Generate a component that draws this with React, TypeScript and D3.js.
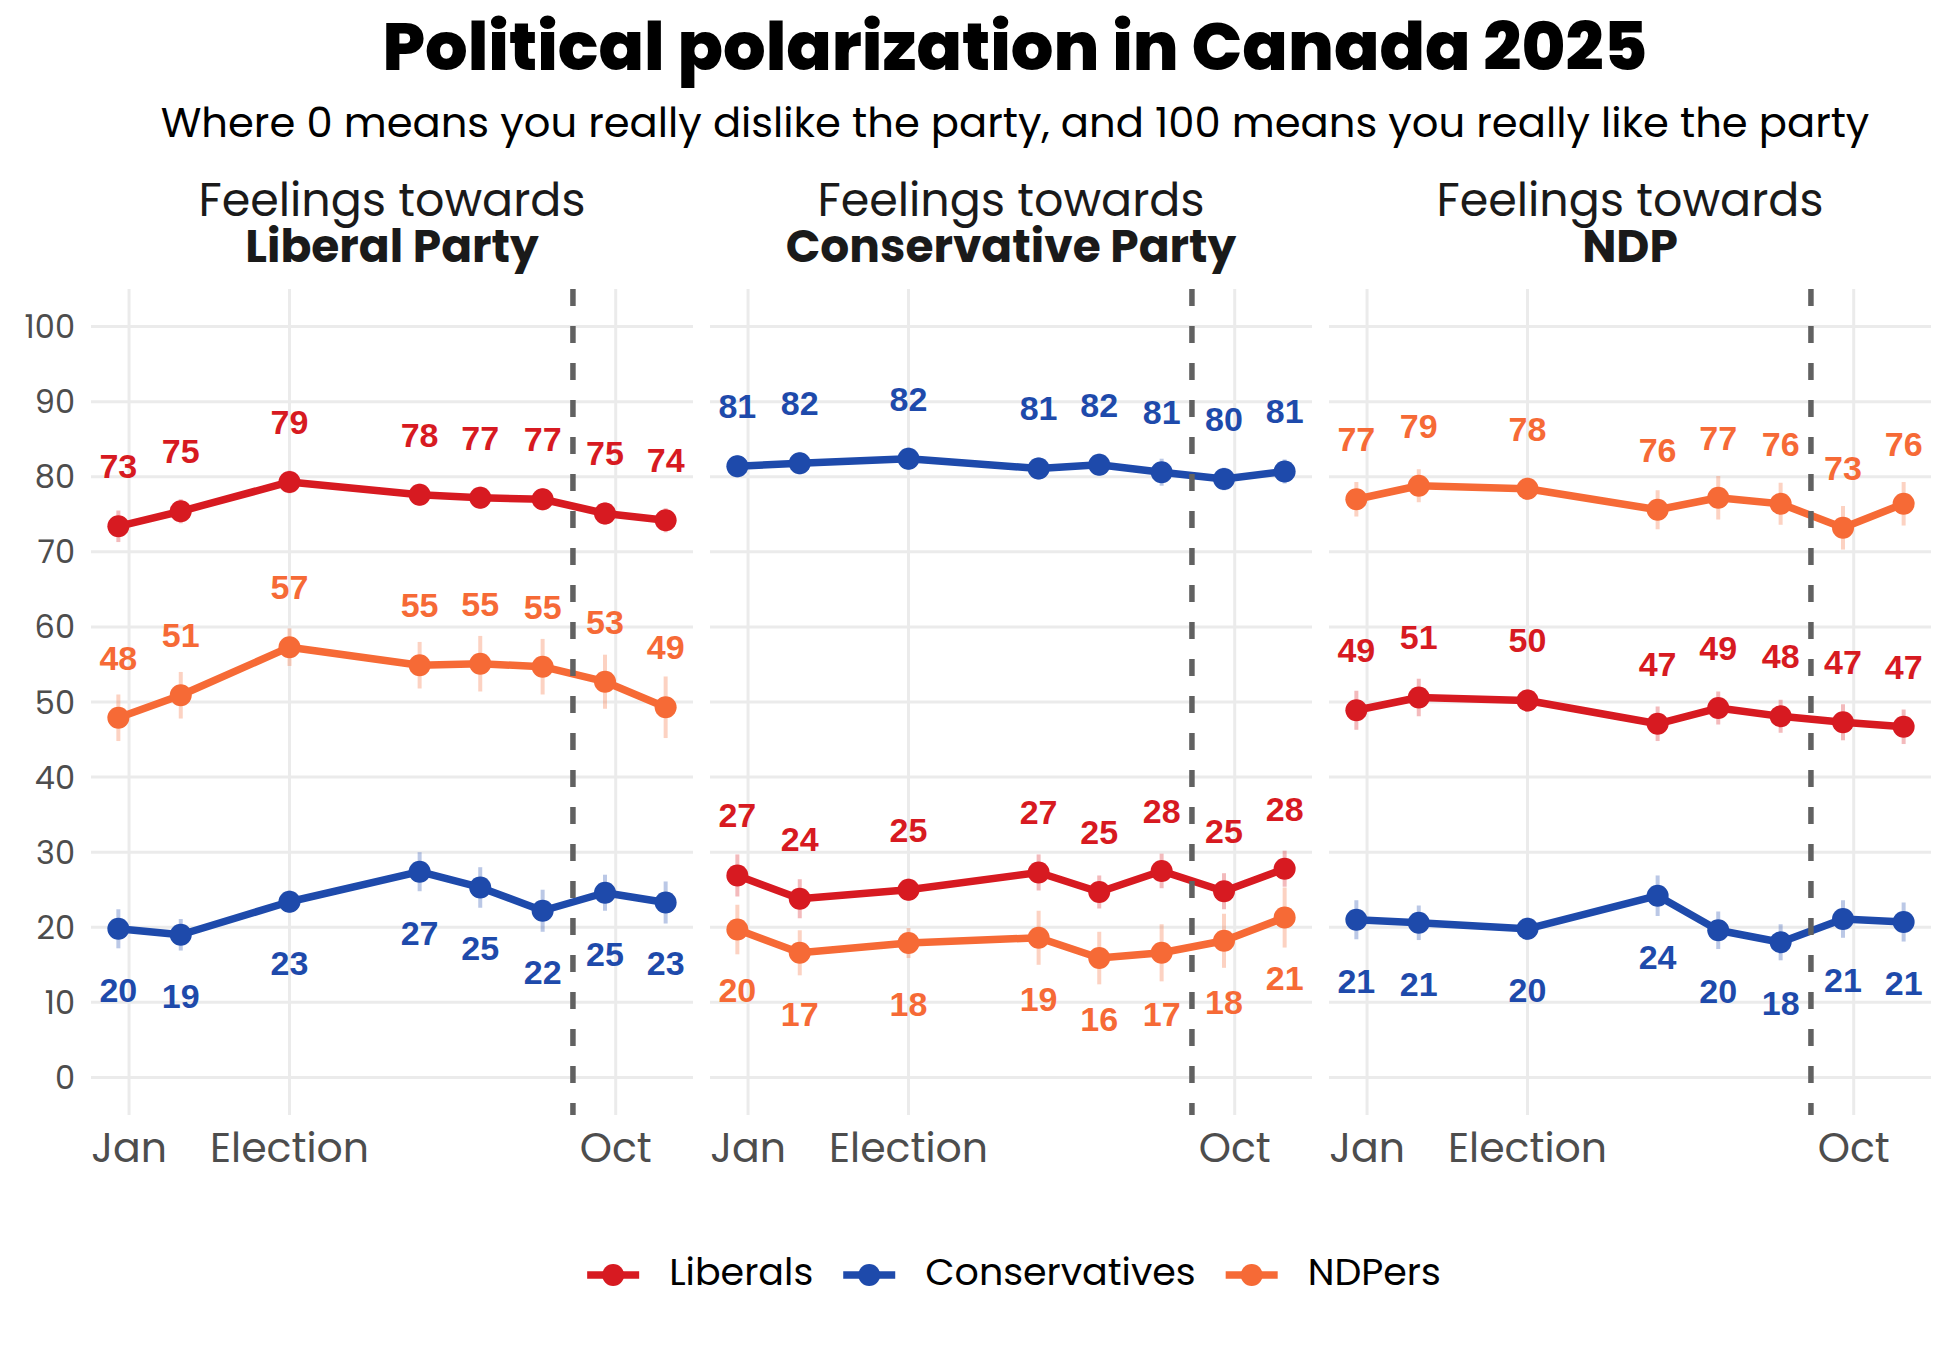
import { useEffect, useRef } from 'react'
import * as d3 from 'd3'

// survey waves (x positions) and axis breaks
const surveyDates = ['2024-12-26', '2025-01-30', '2025-04-01', '2025-06-13', '2025-07-17', '2025-08-21', '2025-09-25', '2025-10-29']
const cutoffDate = '2025-09-07'
const xBreaks = ['2025-01-01', '2025-04-01', '2025-10-01']
const xBreakLabels = ['Jan', 'Election', 'Oct']
const yTicks = [0, 10, 20, 30, 40, 50, 60, 70, 80, 90, 100]

const parties = ['Liberal Party', 'Conservative Party', 'NDP']
const groups = ['Liberals', 'Conservatives', 'NDPers']
const groupColors = ['#d71a21', '#1e4aab', '#f66a36']

// Feelings towards the Liberal Party
const libPartyLiberals = [73.4, 75.4, 79.3, 77.6, 77.2, 77.0, 75.1, 74.2]
const libPartyConservatives = [19.8, 19.0, 23.4, 27.4, 25.3, 22.2, 24.6, 23.3]
const libPartyNDPers = [47.9, 50.9, 57.3, 54.9, 55.1, 54.7, 52.7, 49.3]
const libPartyLiberalsCI = [2.1, 1.6, 1.5, 1.5, 1.5, 1.5, 1.5, 1.6]
const libPartyConservativesCI = [2.6, 2.1, 1.5, 2.6, 2.7, 2.8, 2.4, 2.8]
const libPartyNDPersCI = [3.1, 3.1, 2.5, 3.1, 3.7, 3.7, 3.6, 4.1]

// Feelings towards the Conservative Party
const conPartyLiberals = [26.9, 23.8, 25.0, 27.3, 24.7, 27.5, 24.8, 27.8]
const conPartyConservatives = [81.4, 81.8, 82.4, 81.1, 81.6, 80.6, 79.7, 80.7]
const conPartyNDPers = [19.7, 16.6, 17.9, 18.6, 15.9, 16.6, 18.2, 21.3]
const conPartyLiberalsCI = [2.8, 2.6, 1.5, 2.4, 2.2, 2.3, 2.4, 2.4]
const conPartyConservativesCI = [1.5, 1.5, 1.5, 1.5, 1.5, 1.8, 1.5, 1.6]
const conPartyNDPersCI = [3.3, 3.0, 2.0, 3.6, 3.5, 3.8, 3.6, 4.0]

// Feelings towards the NDP
const ndpLiberals = [48.9, 50.6, 50.2, 47.1, 49.2, 48.1, 47.3, 46.7]
const ndpConservatives = [21.0, 20.6, 19.8, 24.2, 19.6, 18.0, 21.1, 20.7]
const ndpNDPers = [77.0, 78.8, 78.4, 75.6, 77.2, 76.4, 73.2, 76.4]
const ndpLiberalsCI = [2.6, 2.5, 1.5, 2.3, 2.2, 2.2, 2.4, 2.3]
const ndpConservativesCI = [2.6, 2.3, 1.5, 2.7, 2.5, 2.4, 2.5, 2.6]
const ndpNDPersCI = [2.3, 2.2, 1.5, 2.6, 2.9, 2.8, 2.9, 2.9]

interface Point {
  date: Date
  value: number
  ci: number
}

interface Series {
  group: string
  color: string
  points: Point[]
}

const parseDate = d3.timeParse('%Y-%m-%d')

function makeSeries(valuesByGroup: number[][], ciByGroup: number[][]): Series[] {
  return groups.map((group, gi) => ({
    group,
    color: groupColors[gi],
    points: surveyDates.map((d, i) => ({
      date: parseDate(d) as Date,
      value: valuesByGroup[gi][i],
      ci: ciByGroup[gi][i],
    })),
  }))
}

const panelSeries: Series[][] = [
  makeSeries([libPartyLiberals, libPartyConservatives, libPartyNDPers], [libPartyLiberalsCI, libPartyConservativesCI, libPartyNDPersCI]),
  makeSeries([conPartyLiberals, conPartyConservatives, conPartyNDPers], [conPartyLiberalsCI, conPartyConservativesCI, conPartyNDPersCI]),
  makeSeries([ndpLiberals, ndpConservatives, ndpNDPers], [ndpLiberalsCI, ndpConservativesCI, ndpNDPersCI]),
]

const FONT = "Poppins, Inter, 'Open Sans', sans-serif"
const LABEL_FONT = "'Liberation Sans', Arial, sans-serif"

export default function App() {
  const chartRef = useRef<SVGSVGElement>(null)

  useEffect(() => {
    document.body.style.margin = '0'
    if (!chartRef.current) return

    const svg = d3.select(chartRef.current)
    svg.selectAll('*').remove()

    const width = 1950
    const height = 1350
    const panelLeft = 91
    const panelW = 602
    const panelGap = 17
    const panelTop = 289
    const panelBottom = 1115
    const centerX = 1015
    const pointR = 11
    const lineW = 7.5

    svg.append('rect').attr('width', width).attr('height', height).attr('fill', '#ffffff')

    // Title and subtitle
    svg
      .append('text')
      .attr('x', centerX)
      .attr('y', 46)
      .attr('text-anchor', 'middle')
      .attr('dominant-baseline', 'central')
      .style('font-family', FONT)
      .style('font-weight', '800')
      .style('font-size', '67px')
      .attr('fill', '#000')
      .text('Political polarization in Canada 2025')

    svg
      .append('text')
      .attr('x', centerX)
      .attr('y', 122)
      .attr('text-anchor', 'middle')
      .attr('dominant-baseline', 'central')
      .style('font-family', FONT)
      .style('font-size', '41.7px')
      .attr('fill', '#000')
      .text('Where 0 means you really dislike the party, and 100 means you really like the party')

    // Shared scales
    const dates = surveyDates.map((d) => parseDate(d) as Date)
    const [minD, maxD] = d3.extent(dates) as [Date, Date]
    const pad = (maxD.getTime() - minD.getTime()) * 0.05
    const x = d3
      .scaleTime()
      .domain([new Date(minD.getTime() - pad), new Date(maxD.getTime() + pad)])
      .range([0, panelW])

    const y = d3.scaleLinear().domain([-5, 105]).range([panelBottom, panelTop])

    const line = d3
      .line<Point>()
      .x((d) => x(d.date))
      .y((d) => y(d.value))

    panelSeries.forEach((seriesList, pi) => {
      const g = svg.append('g').attr('transform', `translate(${panelLeft + pi * (panelW + panelGap)},0)`)
      const cx = panelW / 2

      // Strip title
      g.append('text')
        .attr('x', cx)
        .attr('y', 200)
        .attr('text-anchor', 'middle')
        .attr('dominant-baseline', 'central')
        .style('font-family', FONT)
        .style('font-size', '46px')
        .attr('fill', '#1a1a1a')
        .text('Feelings towards')
      g.append('text')
        .attr('x', cx)
        .attr('y', 246)
        .attr('text-anchor', 'middle')
        .attr('dominant-baseline', 'central')
        .style('font-family', FONT)
        .style('font-weight', '700')
        .style('font-size', '45.5px')
        .attr('fill', '#1a1a1a')
        .text(parties[pi])

      // Grid
      g.selectAll('.hgrid')
        .data(yTicks)
        .enter()
        .append('line')
        .attr('x1', 0)
        .attr('x2', panelW)
        .attr('y1', (d) => y(d))
        .attr('y2', (d) => y(d))
        .attr('stroke', '#ebebeb')
        .attr('stroke-width', 3)

      g.selectAll('.vgrid')
        .data(xBreaks)
        .enter()
        .append('line')
        .attr('x1', (d) => x(parseDate(d) as Date))
        .attr('x2', (d) => x(parseDate(d) as Date))
        .attr('y1', panelTop)
        .attr('y2', panelBottom)
        .attr('stroke', '#ebebeb')
        .attr('stroke-width', 3)

      // X axis labels
      g.selectAll('.xlab')
        .data(xBreaks)
        .enter()
        .append('text')
        .attr('x', (d) => x(parseDate(d) as Date))
        .attr('y', 1147)
        .attr('text-anchor', 'middle')
        .attr('dominant-baseline', 'central')
        .style('font-family', FONT)
        .style('font-size', '41px')
        .attr('fill', '#4d4d4d')
        .text((_, i) => xBreakLabels[i])

      // Y axis labels on the first panel only
      if (pi === 0) {
        g.selectAll('.ylab')
          .data(yTicks)
          .enter()
          .append('text')
          .attr('x', -16)
          .attr('y', (d) => y(d))
          .attr('text-anchor', 'end')
          .attr('dominant-baseline', 'central')
          .style('font-family', FONT)
          .style('font-size', '32px')
          .attr('fill', '#4d4d4d')
          .text((d) => d)
      }

      // Lowest series in the panel gets its labels below
      const means = seriesList.map((s) => d3.mean(s.points, (p) => p.value) || 0)
      const lowest = means.indexOf(Math.min(...means))

      seriesList.forEach((s) => {
        g.selectAll(null)
          .data(s.points)
          .enter()
          .append('line')
          .attr('x1', (d) => x(d.date))
          .attr('x2', (d) => x(d.date))
          .attr('y1', (d) => y(d.value - d.ci))
          .attr('y2', (d) => y(d.value + d.ci))
          .attr('stroke', s.color)
          .attr('stroke-opacity', 0.3)
          .attr('stroke-width', 4)
      })

      seriesList.forEach((s) => {
        g.append('path')
          .datum(s.points)
          .attr('d', line)
          .attr('fill', 'none')
          .attr('stroke', s.color)
          .attr('stroke-width', lineW)
          .attr('stroke-linejoin', 'round')

        g.selectAll(null)
          .data(s.points)
          .enter()
          .append('circle')
          .attr('cx', (d) => x(d.date))
          .attr('cy', (d) => y(d.value))
          .attr('r', pointR)
          .attr('fill', s.color)
      })

      // Cut-off line
      const cx0 = x(parseDate(cutoffDate) as Date)
      g.append('line')
        .attr('x1', cx0)
        .attr('x2', cx0)
        .attr('y1', panelTop)
        .attr('y2', panelBottom)
        .attr('stroke', '#616161')
        .attr('stroke-width', 5.5)
        .attr('stroke-dasharray', '17 20')

      // Value labels
      seriesList.forEach((s, si) => {
        const below = si === lowest
        g.selectAll(null)
          .data(s.points)
          .enter()
          .append('text')
          .attr('x', (d) => x(d.date))
          .attr('y', (d) => y(below ? d.value - 8.1 : d.value + 8))
          .attr('text-anchor', 'middle')
          .attr('dominant-baseline', 'central')
          .style('font-family', LABEL_FONT)
          .style('font-weight', '700')
          .style('font-size', '34px')
          .attr('fill', s.color)
          .text((d) => Math.round(d.value))
      })
    })

    // Legend
    const legend = svg.append('g')
    const keyW = 52
    const keyGap = 30
    const itemGap = 30
    let cursor = 0
    groups.forEach((grp, i) => {
      const item = legend.append('g').attr('transform', `translate(${cursor},0)`)
      item
        .append('line')
        .attr('x1', 0)
        .attr('x2', keyW)
        .attr('y1', 0)
        .attr('y2', 0)
        .attr('stroke', groupColors[i])
        .attr('stroke-width', lineW)
      item.append('circle').attr('cx', keyW / 2).attr('cy', 0).attr('r', pointR).attr('fill', groupColors[i])
      const t = item
        .append('text')
        .attr('x', keyW + keyGap)
        .attr('y', -4)
        .attr('dominant-baseline', 'central')
        .style('font-family', FONT)
        .style('font-size', '38px')
        .attr('fill', '#000')
        .text(grp)
      const tw = (t.node() as SVGTextElement).getComputedTextLength()
      cursor += keyW + keyGap + tw + itemGap
    })
    const totalW = cursor - itemGap
    legend.attr('transform', `translate(${centerX - 1 - totalW / 2},1275)`)
  }, [])

  return <svg ref={chartRef} width={1950} height={1350} style={{ display: 'block' }} />
}
